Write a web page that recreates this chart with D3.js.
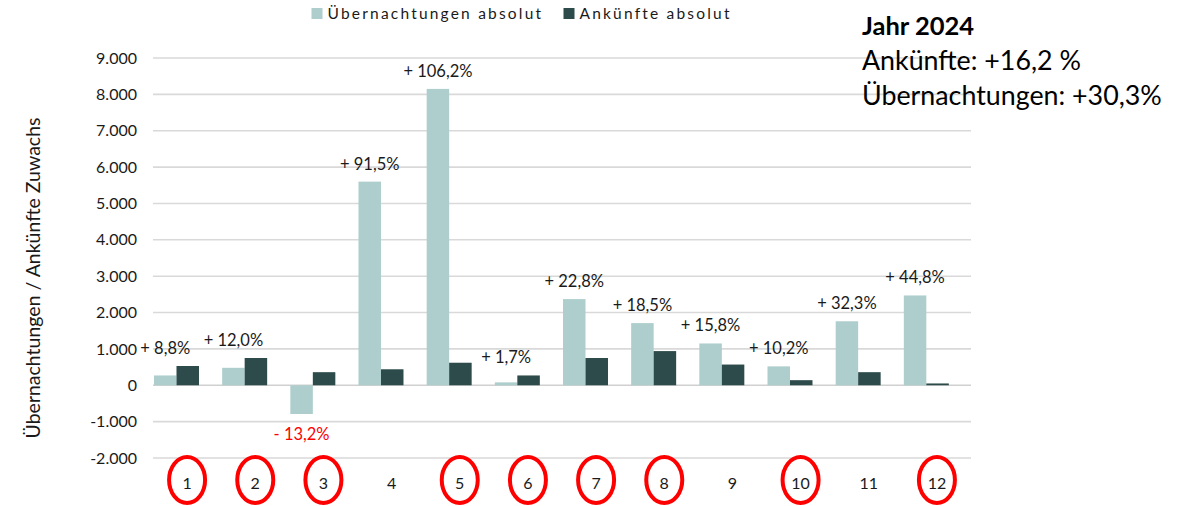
<!DOCTYPE html>
<html>
<head>
<meta charset="utf-8">
<script src="https://cdn.jsdelivr.net/npm/d3@7"></script>
<style>
  html, body { margin: 0; padding: 0; background: #fff; }
  svg { display: block; font-family: Lato, "Open Sans", sans-serif; }
</style>
</head>
<body>
<svg id="chart" width="1196" height="506"></svg>
<script>
// Monthly growth 2024 vs. previous year
const months = ["1", "2", "3", "4", "5", "6", "7", "8", "9", "10", "11", "12"];
const overnightGrowth = [270, 480, -790, 5600, 8150, 80, 2370, 1710, 1150, 520, 1760, 2470];
const arrivalGrowth = [530, 750, 360, 440, 620, 270, 750, 940, 570, 140, 360, 50];
const overnightPct = ["+ 8,8%", "+ 12,0%", "- 13,2%", "+ 91,5%", "+ 106,2%", "+ 1,7%",
                      "+ 22,8%", "+ 18,5%", "+ 15,8%", "+ 10,2%", "+ 32,3%", "+ 44,8%"];
const circledMonths = ["1", "2", "3", "5", "6", "7", "8", "10", "12"];
const seriesNames = ["Übernachtungen absolut", "Ankünfte absolut"];
const yTicks = [-2000, -1000, 0, 1000, 2000, 3000, 4000, 5000, 6000, 7000, 8000, 9000];
const summaryTitle = "Jahr 2024";
const summaryLines = ["Ankünfte: +16,2 %", "Übernachtungen: +30,3%"];
const axisTitle = "Übernachtungen / Ankünfte Zuwachs";

const colors = { overnight: "#adcecc", arrival: "#2d4b4a", grid: "#d9d9d9", text: "#1a1a1a", red: "#ff0000" };

const svg = d3.select("#chart");
const plot = { left: 153, right: 971, top: 58, bottom: 458 };

const de = d3.formatLocale({ decimal: ",", thousands: ".", grouping: [3], currency: ["", " €"], minus: "-" });
const fmt = de.format(",d");

const x = d3.scaleBand().domain(months).range([plot.left, plot.right]).padding(0);
const xSub = d3.scaleBand().domain(["overnight", "arrival"])
  .range([1, 1 + x.bandwidth() * 0.66]).padding(0);
const y = d3.scaleLinear().domain([-2000, 9000]).range([plot.bottom, plot.top]);

// gridlines
svg.append("g").selectAll("line").data(yTicks).join("line")
  .attr("x1", plot.left).attr("x2", plot.right)
  .attr("y1", d => y(d)).attr("y2", d => y(d))
  .attr("stroke", d => d === 0 ? "#d0d0d0" : colors.grid)
  .attr("stroke-width", 1.6);

// y axis labels
const yAxis = svg.append("g").attr("transform", `translate(${plot.left},0)`)
  .call(d3.axisLeft(y).tickValues(yTicks).tickFormat(fmt).tickSize(0).tickPadding(16));
yAxis.select(".domain").remove();
yAxis.selectAll("text").attr("font-size", 16).attr("fill", colors.text)
  .attr("font-family", "Lato, sans-serif");

// bars
const rows = months.map((m, i) => ({ m, overnight: overnightGrowth[i], arrival: arrivalGrowth[i], pct: overnightPct[i] }));
const groups = svg.append("g").selectAll("g").data(rows).join("g")
  .attr("transform", d => `translate(${x(d.m)},0)`);
groups.selectAll("rect").data(d => ["overnight", "arrival"].map(k => ({ k, v: d[k] }))).join("rect")
  .attr("x", d => xSub(d.k))
  .attr("width", xSub.bandwidth())
  .attr("y", d => y(Math.max(0, d.v)))
  .attr("height", d => Math.abs(y(d.v) - y(0)))
  .attr("fill", d => colors[d.k]);

// percentage labels above (or below) each month
svg.append("g").selectAll("text").data(rows).join("text")
  .attr("x", d => x(d.m) + xSub("overnight") + xSub.bandwidth() / 2)
  .attr("y", d => d.overnight < 0
    ? y(d.overnight) + 20 + 6
    : y(Math.max(d.overnight, d.arrival)) - 18 + 6)
  .attr("text-anchor", "middle")
  .attr("font-size", 16.5)
  .attr("fill", d => d.overnight < 0 ? colors.red : colors.text)
  .text(d => d.pct);

// month labels with highlight circles
const labelY = 483;
svg.append("g").selectAll("ellipse").data(circledMonths).join("ellipse")
  .attr("cx", d => x(d) + x.bandwidth() / 2)
  .attr("cy", labelY - 3)
  .attr("rx", 18).attr("ry", 23)
  .attr("fill", "none").attr("stroke", colors.red).attr("stroke-width", 4);
svg.append("g").selectAll("text").data(months).join("text")
  .attr("x", d => x(d) + x.bandwidth() / 2)
  .attr("y", labelY + 6)
  .attr("text-anchor", "middle")
  .attr("font-size", 16)
  .attr("fill", colors.text)
  .text(d => d);

// y axis title
svg.append("text")
  .attr("transform", "translate(40,278) rotate(-90)")
  .attr("text-anchor", "middle")
  .attr("font-size", 19.5)
  .attr("fill", colors.text)
  .text(axisTitle);

// legend
const legend = svg.append("g");
const legendItems = [{ name: seriesNames[0], c: colors.overnight, x: 311.5 }, { name: seriesNames[1], c: colors.arrival, x: 563.5 }];
legend.selectAll("rect").data(legendItems).join("rect")
  .attr("x", d => d.x).attr("y", 8).attr("width", 11).attr("height", 11).attr("fill", d => d.c);
legend.selectAll("text").data(legendItems).join("text")
  .attr("x", d => d.x + 16).attr("y", 19)
  .attr("font-size", 15.5).attr("letter-spacing", 2.2)
  .attr("fill", colors.text)
  .text(d => d.name);

// yearly summary
const summary = svg.append("g").attr("transform", "translate(862,0)");
summary.append("text").attr("y", 35).attr("font-size", 25.5).attr("font-weight", 700)
  .attr("fill", "#000").text(summaryTitle);
summary.selectAll("text.line").data(summaryLines).join("text").attr("class", "line")
  .attr("y", (d, i) => 70 + i * 35).attr("font-size", 26.8).attr("fill", "#000").text(d => d);
</script>
</body>
</html>
